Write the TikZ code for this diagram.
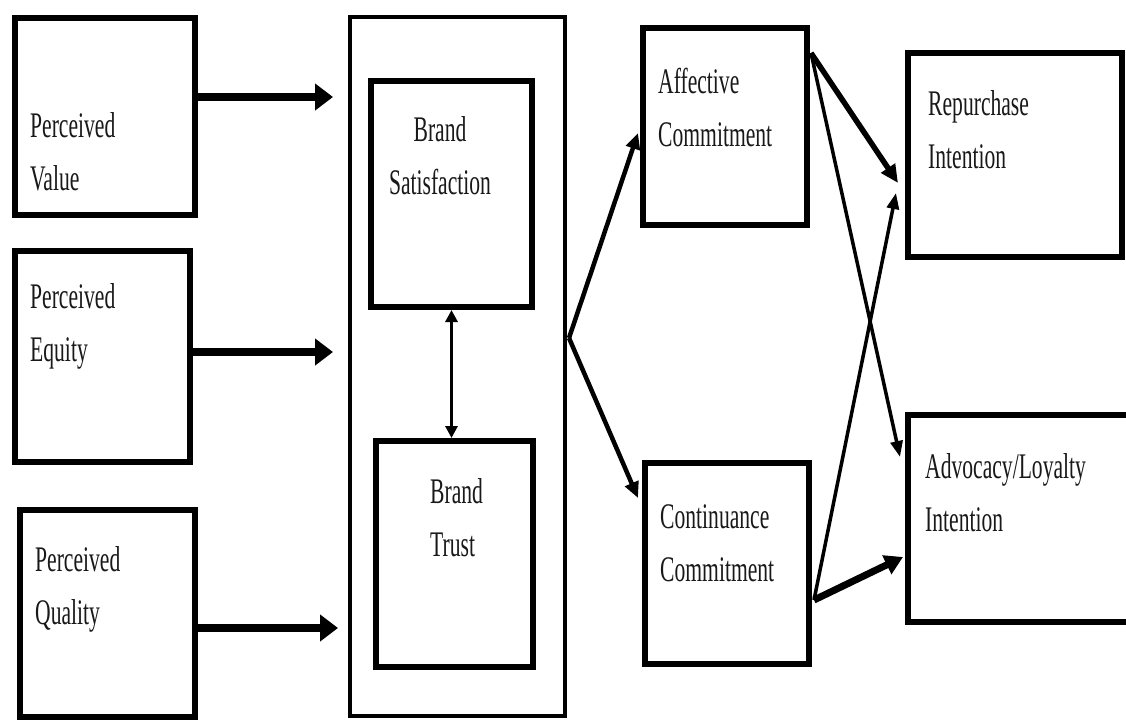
\documentclass[tikz,border=0pt]{standalone}
\usepackage{fontspec}
\setmainfont{Liberation Serif}
\newfontfamily\narrowserif[FakeStretch=0.6]{Liberation Serif}
\usetikzlibrary{arrows.meta}
\tikzset{
  box/.style={draw=black, line width=6pt, inner sep=0pt},
  bigbox/.style={draw=black, line width=4.5pt, inner sep=0pt},
  lbl/.style={inner sep=0pt, anchor=base west, align=left, text=black!90,
    font=\narrowserif\fontsize{36}{53}\selectfont},
  clbl/.style={lbl, anchor=base, align=center},
  harrow/.style={line width=8pt, -{Triangle[length=18pt,width=26pt]}},
  darrow/.style={line width=4.5pt, -{Triangle[length=16pt,width=14pt]}},
  thinarrow/.style={line width=3.5pt, -{Triangle[length=16pt,width=12pt]}},
  midarrow/.style={line width=5.5pt, -{Triangle[length=18pt,width=16pt]}},
  thickarrow/.style={line width=7pt, -{Triangle[length=18pt,width=20pt]}},
  biarrow/.style={line width=3.5pt, {Triangle[length=12pt,width=12pt]}-{Triangle[length=12pt,width=12pt]}}
}
\begin{document}
\begin{tikzpicture}[x=1pt,y=-1pt]
\useasboundingbox[fill=white] (0,0) rectangle (1126,725);

% left boxes
\node[box, minimum width=180pt, minimum height=197pt] (pv) at (105,116.5) {};
\node[box, minimum width=175pt, minimum height=211pt] (pe) at (102.5,356.5) {};
\node[box, minimum width=175pt, minimum height=207pt] (pq) at (107.5,613.5) {};
\node[lbl] (pvt) at (30,190) {Perceived\\Value};
\node[lbl] (pet) at (30,361) {Perceived\\Equity};
\node[lbl] (pqt) at (35,624) {Perceived\\Quality};

% middle boxes
\node[bigbox, minimum width=215pt, minimum height=699pt] (bb) at (457.5,366.5) {};
\node[box, minimum width=161pt, minimum height=226pt] (sat) at (451.5,194) {};
\node[box, minimum width=157pt, minimum height=226pt] (tr) at (454.5,554) {};
\node[clbl] (satt) at (440,194) {Brand\\Satisfaction};
\node[lbl] (trt) at (430,556) {Brand\\Trust};

% commitment boxes
\node[box, minimum width=164pt, minimum height=197pt] (af) at (725,126.5) {};
\node[box, minimum width=164pt, minimum height=201pt] (co) at (727,563.5) {};
\node[lbl] (aft) at (658,146) {Affective\\Commitment};
\node[lbl] (cot) at (660,581) {Continuance\\Commitment};

% outcome boxes
\node[box, minimum width=214pt, minimum height=204pt] (rp) at (1015,155) {};
\node[box, minimum width=226pt, minimum height=207pt] (ad) at (1021,518.5) {};
\node[lbl] (rpt) at (928,168) {Repurchase\\Intention};
\node[lbl] (adt) at (925,531) {Advocacy/Loyalty\\Intention};

% connector end points
\coordinate (tpv) at (333,97);
\coordinate (tpe) at (333,352);
\coordinate (tpq) at (338,628);
\coordinate (sbb) at (569,338);
\coordinate (taf) at (638,133);
\coordinate (tco) at (638,498);
\coordinate (saf) at (811,53);
\coordinate (sco) at (814,600);
\coordinate (trp1) at (898,183);
\coordinate (trp2) at (896,193);
\coordinate (tad1) at (900,457);
\coordinate (tad2) at (903,557);

% arrows
\draw[harrow] (pv.east |- tpv) -- (tpv);
\draw[harrow] (pe.east |- tpe) -- (tpe);
\draw[harrow] (pq.east |- tpq) -- (tpq);
\draw[biarrow] (sat.south) -- (sat.south |- tr.north);
\draw[darrow] (sbb) -- (taf);
\draw[darrow] (sbb) -- (tco);
\draw[midarrow] (saf) -- (trp1);
\draw[thinarrow] (saf) -- (tad1);
\draw[thinarrow] (sco) -- (trp2);
\draw[thickarrow] (sco) -- (tad2);
\end{tikzpicture}
\end{document}
